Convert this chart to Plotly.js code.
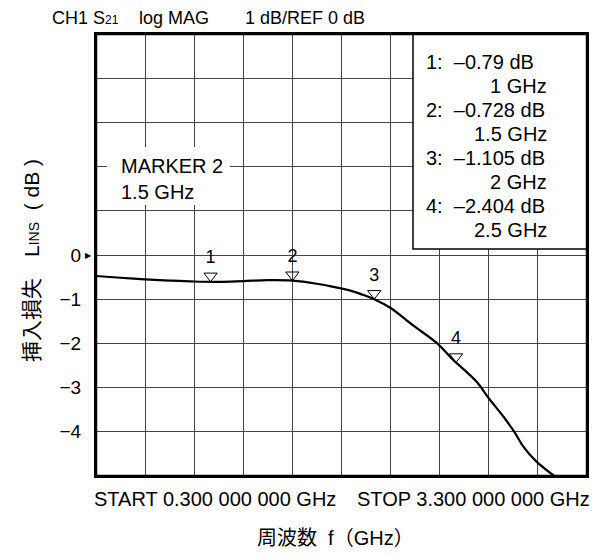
<!DOCTYPE html>
<html><head><meta charset="utf-8">
<script src="https://cdn.plot.ly/plotly-3.0.1.min.js"></script>
<style>html,body{margin:0;padding:0;background:#fff;}#chart{width:594px;height:557px;}</style>
</head><body><div id="chart"></div>
<script>
// ---- data ----
const freqGHz = [0.3, 0.45, 0.6, 0.75, 0.9, 1.05, 1.2, 1.35, 1.5, 1.65, 1.75, 1.85, 1.93, 2.0, 2.1, 2.24, 2.385, 2.473, 2.55, 2.626, 2.7, 2.79, 2.856, 2.91, 2.99, 3.1];
const lossDB  = [-0.475, -0.515, -0.55, -0.578, -0.60, -0.607, -0.59, -0.57, -0.58, -0.65, -0.72, -0.80, -0.90, -1.0, -1.2, -1.6, -2.0, -2.34, -2.60, -2.87, -3.24, -3.66, -4.0, -4.33, -4.67, -5.0];
const markerNums = ['1', '2', '3', '4'];
const markerFreqGHz = [1, 1.5, 2, 2.5];
const markerReadDB = [-0.79, -0.728, -1.105, -2.404];
const yLabeledTicks = [0, -1, -2, -3, -4];
const startGHz = 0.3;
const stopGHz = 3.3;
const activeMarker = 2;
const headerParts = ['CH1 S<span style="font-size:12px">21</span>', 'log MAG', '1 dB/REF 0 dB'];

// ---- helpers ----
const F = 'Liberation Sans, Arial, Noto Sans CJK JP, sans-serif';
function interp(x) {
  for (let i = 0; i < freqGHz.length - 1; i++) {
    if (x >= freqGHz[i] && x <= freqGHz[i + 1]) {
      const t = (x - freqGHz[i]) / (freqGHz[i + 1] - freqGHz[i]);
      return lossDB[i] + t * (lossDB[i + 1] - lossDB[i]);
    }
  }
  return lossDB[lossDB.length - 1];
}
function fmtFreq(v) {
  const s = v.toFixed(9).split('.');
  return s[0] + '.' + s[1].match(/.{3}/g).join(' ');
}
function fmtGHz(v) { return String(v) + ' GHz'; }

// plot-area geometry (px) for paper conversions
const PL = 96, PR = 587, PT = 34, PB = 476;
const px2x = p => (p - PL) / (PR - PL);
const px2y = p => (PB - p) / (PB - PT);

const gridVals = [];
for (let v = -5; v <= 5; v++) gridVals.push(v);
const gridText = gridVals.map(v => yLabeledTicks.includes(v) ? (v < 0 ? '\u2212' + (-v) : String(v)) : '');

const markerOffsetDB = 5.75 / ((PB - PT) / 10);

const traces = [
  {
    x: freqGHz, y: lossDB, type: 'scatter', mode: 'lines',
    line: {color: '#000', width: 2.2, shape: 'spline', smoothing: 1.0},
    hoverinfo: 'skip'
  },
  {
    x: markerFreqGHz, y: markerFreqGHz.map(f => interp(f) + markerOffsetDB),
    type: 'scatter', mode: 'markers+text', text: markerNums,
    textposition: 'top center', textfont: {family: F, size: 18, color: '#000'},
    marker: {symbol: 'triangle-down-open', size: 11.5, color: '#000', line: {width: 1, color: '#000'}},
    cliponaxis: false, hoverinfo: 'skip'
  }
];

const annotations = [];
const headerX = [50, 137, 243];
headerParts.forEach((t, i) => annotations.push({
  xref: 'paper', yref: 'paper', x: px2x(headerX[i]), y: px2y(18), xanchor: 'left', yanchor: 'middle',
  text: t, showarrow: false, font: {family: F, size: 18, color: '#000'}
}));
// readout box text
markerNums.forEach((n, i) => {
  const yA = 61.7 + 48 * i, yB = yA + 24;
  annotations.push({xref: 'paper', yref: 'paper', x: px2x(424), y: px2y(yA), xanchor: 'left', yanchor: 'middle',
    text: n + ':\u00a0\u00a0\u2013' + Math.abs(markerReadDB[i]) + ' dB', showarrow: false, font: {family: F, size: 20, color: '#000'}});
  annotations.push({xref: 'paper', yref: 'paper', x: px2x(549), y: px2y(yB), xanchor: 'right', yanchor: 'middle',
    text: fmtGHz(markerFreqGHz[i]), showarrow: false, font: {family: F, size: 20, color: '#000'}});
});
// active marker label
annotations.push({xref: 'paper', yref: 'paper', x: px2x(119), y: px2y(166), xanchor: 'left', yanchor: 'middle',
  text: 'MARKER ' + activeMarker, showarrow: false, font: {family: F, size: 20, color: '#000'}});
annotations.push({xref: 'paper', yref: 'paper', x: px2x(119), y: px2y(192), xanchor: 'left', yanchor: 'middle',
  text: fmtGHz(markerFreqGHz[activeMarker - 1]), showarrow: false, font: {family: F, size: 20, color: '#000'}});
// start / stop
annotations.push({xref: 'paper', yref: 'paper', x: px2x(92), y: px2y(499), xanchor: 'left', yanchor: 'middle',
  text: 'START ' + fmtFreq(startGHz) + ' GHz', showarrow: false, font: {family: F, size: 20, color: '#000'}});
annotations.push({xref: 'paper', yref: 'paper', x: px2x(592), y: px2y(499), xanchor: 'right', yanchor: 'middle',
  text: 'STOP ' + fmtFreq(stopGHz) + ' GHz', showarrow: false, font: {family: F, size: 20, color: '#000'}});
// axis titles
annotations.push({xref: 'paper', yref: 'paper', x: px2x(335), y: px2y(538), xanchor: 'center', yanchor: 'middle',
  text: '周波数\u00a0\u00a0f（GHz）', showarrow: false, font: {family: F, size: 20, color: '#000'}});
annotations.push({xref: 'paper', yref: 'paper', x: px2x(31), y: px2y(261), xanchor: 'center', yanchor: 'middle',
  textangle: -90, text: '挿入損失\u3000L<span style="font-size:14px">INS</span>\u00a0\u00a0(\u00a0dB\u00a0)', showarrow: false,
  font: {family: F, size: 21, color: '#000'}});
// reference-level pointer
annotations.push({xref: 'paper', yref: 'y', x: px2x(94), y: 0, xanchor: 'right', yanchor: 'middle',
  text: '\u25B6', showarrow: false, font: {family: 'DejaVu Sans', size: 8, color: '#000'}});

const shapes = [
  {type: 'rect', xref: 'paper', yref: 'paper', x0: px2x(413), x1: 1, y0: px2y(249), y1: 1,
   fillcolor: '#fff', line: {color: '#000', width: 1.5}, layer: 'above'},
  {type: 'rect', xref: 'paper', yref: 'paper', x0: px2x(107), x1: px2x(230), y0: px2y(205), y1: px2y(147),
   fillcolor: '#fff', line: {width: 0}, layer: 'above'},
  {type: 'rect', xref: 'paper', yref: 'paper', x0: 0, x1: 1, y0: 0, y1: 1,
   fillcolor: 'rgba(0,0,0,0)', line: {color: '#000', width: 2.5}, layer: 'above'}
];

const layout = {
  width: 594, height: 557,
  margin: {l: PL, r: 594 - PR, t: PT, b: 557 - PB, pad: 0},
  paper_bgcolor: '#fff', plot_bgcolor: '#fff',
  showlegend: false,
  xaxis: {range: [startGHz, stopGHz], tick0: startGHz, dtick: (stopGHz - startGHz) / 10, tickmode: 'linear',
    showticklabels: false, ticks: '', showgrid: true, gridcolor: '#444', gridwidth: 1,
    zeroline: false, showline: true, mirror: true, linecolor: '#000', linewidth: 2, fixedrange: true},
  yaxis: {range: [-5, 5], tickmode: 'array', tickvals: gridVals, ticktext: gridText,
    ticks: '', ticklabelstandoff: 9, tickfont: {family: F, size: 19, color: '#000'},
    showgrid: true, gridcolor: '#444', gridwidth: 1,
    zeroline: false, showline: true, mirror: true, linecolor: '#000', linewidth: 2, fixedrange: true},
  annotations: annotations,
  shapes: shapes
};

Plotly.newPlot('chart', traces, layout, {displayModeBar: false, staticPlot: true});
</script>
</body></html>
